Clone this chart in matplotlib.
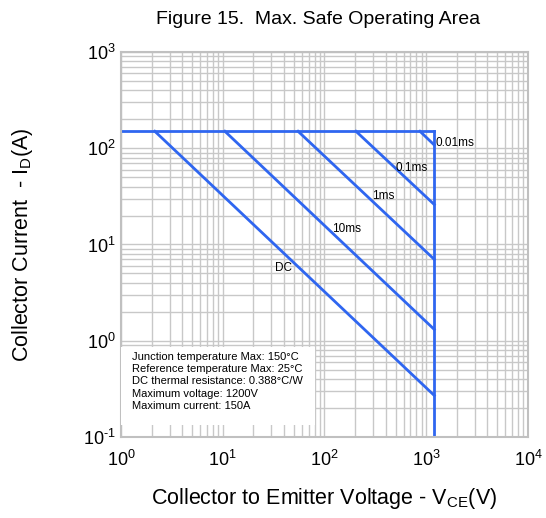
import numpy as np
import matplotlib
matplotlib.use('Agg')
import matplotlib.pyplot as plt
from matplotlib.ticker import FuncFormatter

plt.rcParams['font.family'] = ['Liberation Sans', 'DejaVu Sans']
plt.rcParams['mathtext.fontset'] = 'custom'
plt.rcParams['mathtext.rm'] = 'Liberation Sans'
plt.rcParams['mathtext.default'] = 'regular'

# SOA limits
v_max = 1200.0      # V
i_max = 150.0       # A
pulses = ['0.01ms', '0.1ms', '1ms', '10ms', 'DC']
v_knee = [868.0, 204.0, 55.0, 10.5, 2.15]      # voltage where each pulse line leaves I = 150A
i_end = [108.0, 26.0, 7.0, 1.31, 0.27]         # current at V = 1200V
label_xy = [(1240, 113), (724, 62), (376, 32), (166, 14.5), (40, 5.7)]

info = ['Junction temperature Max: 150\u00b0C',
        'Reference temperature Max: 25\u00b0C',
        'DC thermal resistance: 0.388\u00b0C/W',
        'Maximum voltage: 1200V',
        'Maximum current: 150A']

blue = '#2f66f0'

def decade(x, pos):
    return r'$10^{\text{%d}}$' % round(np.log10(x))

fig = plt.figure(figsize = (5.46, 5.18), dpi = 100)
ax = fig.add_axes([0.2216, 0.1564, 0.7454, 0.7432])
ax.set_xscale('log')
ax.set_yscale('log')
ax.set_xlim(1, 1e4)
ax.set_ylim(0.1, 1e3)
ax.xaxis.set_major_formatter(FuncFormatter(decade))
ax.yaxis.set_major_formatter(FuncFormatter(decade))

ax.grid(True, which = 'both', color = '#c8c8c8', linewidth = 1.0)
ax.set_axisbelow(True)
for s in ax.spines.values():
    s.set_color('#c0c0c0')
    s.set_linewidth(1.5)
ax.tick_params(which = 'both', length = 0, labelsize = 13)
ax.tick_params(axis = 'x', pad = 9)
ax.tick_params(axis = 'y', pad = 4)

# current limit and voltage limit
ax.plot([1, v_max], [i_max, i_max], color = blue, lw = 2)
ax.plot([v_max, v_max], [i_max, 0.1], color = blue, lw = 2)

for name, vk, ie, (tx, ty) in zip(pulses, v_knee, i_end, label_xy):
    ax.plot([vk, v_max], [i_max, ie], color = blue, lw = 2)
    ax.text(tx, ty, name, fontsize = 8.5, ha = 'left' if name == '0.01ms' else 'center', va = 'center')

ax.add_patch(plt.Rectangle((0, 0.031), 0.477, 0.203, transform = ax.transAxes,
                           facecolor = 'white', edgecolor = 'none', zorder = 3))
ax.text(0.027, 0.222, '\n'.join(info), transform = ax.transAxes, fontsize = 8,
        va = 'top', ha = 'left', linespacing = 1.3, zorder = 4)

fig.text(318 / 546, 1 - 19 / 518, 'Figure 15.  Max. Safe Operating Area',
         fontsize = 14, ha = 'center', va = 'center')
ax.set_xlabel('Collector to Emitter Voltage - V$_{CE}$(V)', fontsize = 15.5, labelpad = 12)
ax.set_ylabel('Collector Current  - I$_{D}$(A)', fontsize = 15.5, labelpad = 34)

plt.savefig('out.png')
